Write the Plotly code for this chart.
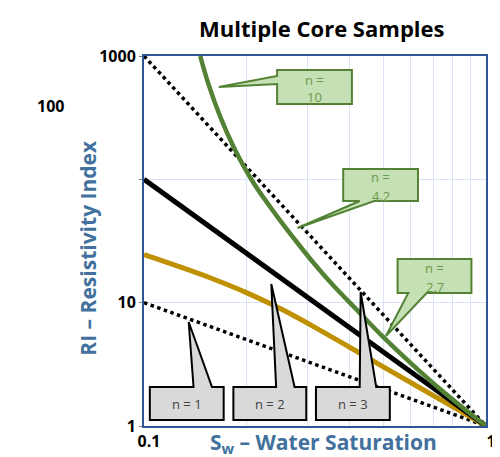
import plotly.graph_objects as go

# ---------------- data ----------------
sw_n1 = [0.1, 1.0]
ri_n1 = [10, 1]
sw_n2 = [0.1, 1.0]
ri_n2 = [100, 1]
sw_n3 = [0.1, 1.0]
ri_n3 = [1000, 1]

sw_green = [0.146, 0.154, 0.1675, 0.183, 0.208, 0.245, 0.280, 0.316, 0.355, 0.413, 0.501, 0.631, 0.794, 1.0]
ri_green = [1000, 603, 316, 182, 95.5, 50.1, 30.9, 20.4, 14.1, 9.12, 5.25, 2.88, 1.66, 1.0]

sw_gold = [0.1, 0.126, 0.158, 0.2, 0.251, 0.316, 0.398, 0.501, 0.631, 0.794, 1.0]
ri_gold = [24.5, 19.7, 15.7, 12.0, 8.91, 6.31, 4.37, 3.02, 2.09, 1.45, 1.0]

x_tickvals = [0.1, 0.2, 0.3, 0.4, 0.5, 0.6, 0.7, 0.8, 0.9, 1.0]
x_ticktext = ["0.1", "", "", "", "", "", "", "", "", "1"]
y_tickvals = [1, 10, 100, 1000]
y_ticktext = ["1", "10", "", "1000"]

# ---------------- geometry (pixels) ----------------
W, H = 500, 457
L, R, T, B = 136, 12, 48, 39
PW, PH = W - L - R, H - T - B

def px(x):
    return (x - L) / PW

def py(y):
    return (T + PH - y) / PH

FONT = "Open Sans"
BLUE = "#41719C"
GREEN = "#548235"

fig = go.Figure()
fig.add_trace(go.Scatter(x=sw_n1, y=ri_n1, mode="lines",
                         line=dict(color="black", width=3.5, dash="dot")))
fig.add_trace(go.Scatter(x=sw_n3, y=ri_n3, mode="lines",
                         line=dict(color="black", width=3.5, dash="dot")))
fig.add_trace(go.Scatter(x=sw_gold, y=ri_gold, mode="lines", line_shape="spline",
                         line=dict(color="#BF9000", width=5)))
fig.add_trace(go.Scatter(x=sw_n2, y=ri_n2, mode="lines",
                         line=dict(color="black", width=5)))
fig.add_trace(go.Scatter(x=sw_green, y=ri_green, mode="lines", line_shape="spline",
                         line=dict(color=GREEN, width=4.5)))

shapes = []
annotations = []

def callout(box, base, tip, side, fill, edge, lines, color, ys):
    x0, y0, x1, y1 = box
    if side == "left":
        pts = [(x0, y0), (x1, y0), (x1, y1), (x0, y1), (x0, base[1]), tip, (x0, base[0])]
    elif side == "bottom":
        pts = [(x0, y0), (x1, y0), (x1, y1), (base[1], y1), tip, (base[0], y1), (x0, y1)]
    else:  # top
        pts = [(x0, y0), (base[0], y0), tip, (base[1], y0), (x1, y0), (x1, y1), (x0, y1)]
    path = "M " + " L ".join(f"{px(a):.5f},{py(b):.5f}" for a, b in pts) + " Z"
    shapes.append(dict(type="path", path=path, xref="paper", yref="paper",
                       fillcolor=fill, line=dict(color=edge, width=2), layer="above"))
    for txt, yy in zip(lines, ys):
        annotations.append(dict(text=txt, x=px((x0 + x1) / 2), y=py(yy), xref="paper", yref="paper",
                                showarrow=False, xanchor="center", yanchor="middle",
                                font=dict(family=FONT, size=13, color=color)))

GFILL = "#C5E0B4"
GTXT = "#6A9A4A"
callout((273, 62, 350, 96), (68, 76), (213, 79), "left", GFILL, GREEN, ["n =", "10"], GTXT, [72, 89])
callout((341, 161, 418, 193), (358, 373), (294, 220), "bottom", GFILL, GREEN, ["n =", "4.2"], GTXT, [169, 188])
callout((397, 251, 473, 285), (408, 427), (385, 328), "bottom", GFILL, GREEN, ["n =", "2.7"], GTXT, [260, 279])

GRAY = "#D9D9D9"
callout((142, 379, 218, 412), (187, 206), (182, 314), "top", GRAY, "black", ["n = 1"], "#404040", [396])
callout((228, 379, 303, 412), (272, 291), (267, 276), "top", GRAY, "black", ["n = 2"], "#404040", [396])
callout((313, 379, 389, 412), (358, 375), (359, 284), "top", GRAY, "black", ["n = 3"], "#404040", [396])

annotations += [
    dict(text="<b>Multiple Core Samples</b>", x=px(319), y=py(20), xref="paper", yref="paper",
         showarrow=False, xanchor="center", yanchor="middle",
         font=dict(family=FONT, size=22, color="black")),
    dict(text="<b>RI – Resistivity Index</b>", x=px(78), y=py(240), xref="paper", yref="paper",
         showarrow=False, xanchor="center", yanchor="middle", textangle=-90,
         font=dict(family=FONT, size=21, color=BLUE)),
    dict(text="<b>S<sub>w</sub> – Water Saturation</b>", x=px(321), y=py(435), xref="paper", yref="paper",
         showarrow=False, xanchor="center", yanchor="middle",
         font=dict(family=FONT, size=21, color=BLUE)),
    dict(text="<b>100</b>", x=px(40), y=py(98), xref="paper", yref="paper",
         showarrow=False, xanchor="center", yanchor="middle",
         font=dict(family=FONT, size=16, color="black")),
]

fig.update_layout(
    width=W, height=H, margin=dict(l=L, r=R, t=T, b=B),
    paper_bgcolor="white", plot_bgcolor="white", showlegend=False,
    shapes=shapes, annotations=annotations,
    font=dict(family=FONT),
)
fig.update_xaxes(type="log", range=[-1, 0], tickvals=x_tickvals, ticktext=x_ticktext,
                 showgrid=True, gridcolor="#DAE3F3", gridwidth=1,
                 showline=True, linecolor="#2F5597", linewidth=2, mirror=True,
                 ticks="", ticklabelstandoff=0, ticklabelshift=5,
                 tickfont=dict(family=FONT, size=16, color="black", weight="bold"),
                 zeroline=False)
fig.update_yaxes(type="log", range=[0, 3], tickvals=y_tickvals, ticktext=y_ticktext,
                 showgrid=True, gridcolor="#DAE3F3", gridwidth=1,
                 showline=True, linecolor="#2F5597", linewidth=2, mirror=True,
                 ticks="outside", ticklen=3, tickcolor="#7F7F7F",
                 tickfont=dict(family=FONT, size=16, color="black", weight="bold"),
                 zeroline=False)

fig.write_html("out.html")
